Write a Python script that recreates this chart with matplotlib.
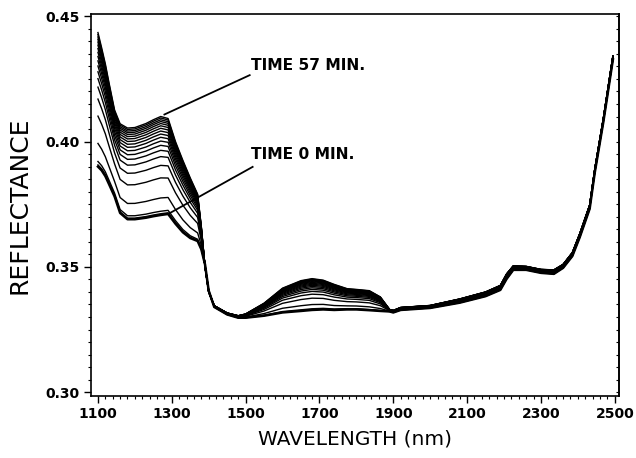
import numpy as np
import matplotlib
matplotlib.use("Agg")
import matplotlib.pyplot as plt
from matplotlib.ticker import MultipleLocator, FormatStrFormatter, NullFormatter

plt.rcParams['font.family'] = ['DejaVu Sans']

# wavelength grid (nm)
wl = [1100, 1110, 1120, 1130, 1145, 1160, 1180, 1200, 1230, 1250, 1270, 1290,
      1310, 1330, 1350, 1370, 1380, 1390, 1400, 1415, 1450, 1480, 1500, 1550,
      1600, 1650, 1680, 1710, 1740, 1775, 1800, 1835, 1865, 1890, 1900, 1920,
      2000, 2080, 2150, 2190, 2207, 2225, 2260, 2300, 2335, 2360, 2385, 2405,
      2432, 2446, 2469, 2495]

# time 0 min spectrum (lowest curve)
refl_t0 = [0.3900, 0.3885, 0.3862, 0.3830, 0.3781, 0.3715, 0.3690, 0.3690,
           0.3696, 0.3702, 0.3707, 0.3711, 0.3672, 0.3638, 0.3615, 0.3603,
           0.3570, 0.3510, 0.3405, 0.3340, 0.3310, 0.3297, 0.3297, 0.3305,
           0.3318, 0.3324, 0.3328, 0.3330, 0.3328, 0.3330, 0.3330, 0.3327,
           0.3324, 0.3322, 0.3318, 0.3328, 0.3336, 0.3357, 0.3383, 0.3408,
           0.3452, 0.3488, 0.3488, 0.3476, 0.3472, 0.3496, 0.3543, 0.3618,
           0.3732, 0.3878, 0.4078, 0.4328]

# time 57 min spectrum (highest curve)
refl_t57 = [0.4435, 0.4374, 0.4310, 0.4234, 0.4126, 0.4071, 0.4054, 0.4056,
            0.4072, 0.4087, 0.4100, 0.4092, 0.4000, 0.3925, 0.3855, 0.3790,
            0.3660, 0.3500, 0.3400, 0.3345, 0.3316, 0.3305, 0.3312, 0.3355,
            0.3415, 0.3445, 0.3453, 0.3447, 0.3430, 0.3413, 0.3410, 0.3405,
            0.3380, 0.3330, 0.3326, 0.3338, 0.3346, 0.3372, 0.3400, 0.3426,
            0.3472, 0.3504, 0.3502, 0.3490, 0.3488, 0.3510, 0.3557, 0.3632,
            0.3747, 0.3892, 0.4092, 0.4342]

# level of every recorded curve at the 1270 nm plateau, time 0 .. 57 min
level_1270 = [0.3707, 0.3712, 0.3722, 0.3775, 0.3855, 0.3905, 0.3940, 0.3965,
              0.3985, 0.4002, 0.4017, 0.4030, 0.4042, 0.4053, 0.4063, 0.4072,
              0.4080, 0.4087, 0.4094, 0.4100]

xticks = [1100, 1300, 1500, 1700, 1900, 2100, 2300, 2500]
yticks = [0.30, 0.35, 0.40, 0.45]

wl = np.array(wl)
lo = np.array(refl_t0)
hi = np.array(refl_t57)
i1270 = list(wl).index(1270)

fig = plt.figure(figsize=(6.36, 4.58), dpi=100)
ax = fig.add_axes([0.143, 0.135, 0.830, 0.8355])

for k, lev in enumerate(level_1270):
    f = (lev - lo[i1270]) / (hi[i1270] - lo[i1270])
    lw = 1.8 if k == 0 else 1.0
    ax.plot(wl, lo + f * (hi - lo), color='black', lw=lw)

# leader lines and labels
ax.plot([1511, 1280], [0.4265, 0.4108], color='black', lw=1.3)
ax.text(1514, 0.4302, 'TIME 57 MIN.', fontsize=11.2, fontweight='bold', va='center')
ax.plot([1519, 1294], [0.3899, 0.3714], color='black', lw=1.3)
ax.text(1514, 0.3947, 'TIME 0 MIN.', fontsize=11.2, fontweight='bold', va='center')

ax.set_xlim(1081, 2511)
ax.set_ylim(0.2984, 0.4511)
ax.set_xticks(xticks)
ax.set_yticks(yticks)
ax.xaxis.set_minor_locator(MultipleLocator(20))
ax.yaxis.set_minor_locator(MultipleLocator(0.005))
ax.yaxis.set_major_formatter(FormatStrFormatter('%.2f'))
ax.tick_params(which='major', direction='out', length=5, width=1.0,
               labelsize=10, pad=3)
ax.tick_params(which='minor', direction='out', length=2.5, width=0.8)
for lab in ax.get_xticklabels() + ax.get_yticklabels():
    lab.set_fontweight('bold')
for sp in ax.spines.values():
    sp.set_linewidth(1.2)

# small inward ticks on the right frame
sec = ax.secondary_yaxis('right')
sec.set_yticks(yticks)
sec.yaxis.set_minor_locator(MultipleLocator(0.005))
sec.yaxis.set_major_formatter(NullFormatter())
sec.tick_params(which='both', direction='in', length=2.5, width=0.8)
sec.spines['right'].set_linewidth(1.2)

ax.set_xlabel('WAVELENGTH (nm)', fontsize=14.5)
ax.set_ylabel('REFLECTANCE', fontsize=18)
ax.xaxis.set_label_coords(0.5, -0.087)
ax.yaxis.set_label_coords(-0.113, 0.5)

fig.savefig('out.png', dpi=100)
